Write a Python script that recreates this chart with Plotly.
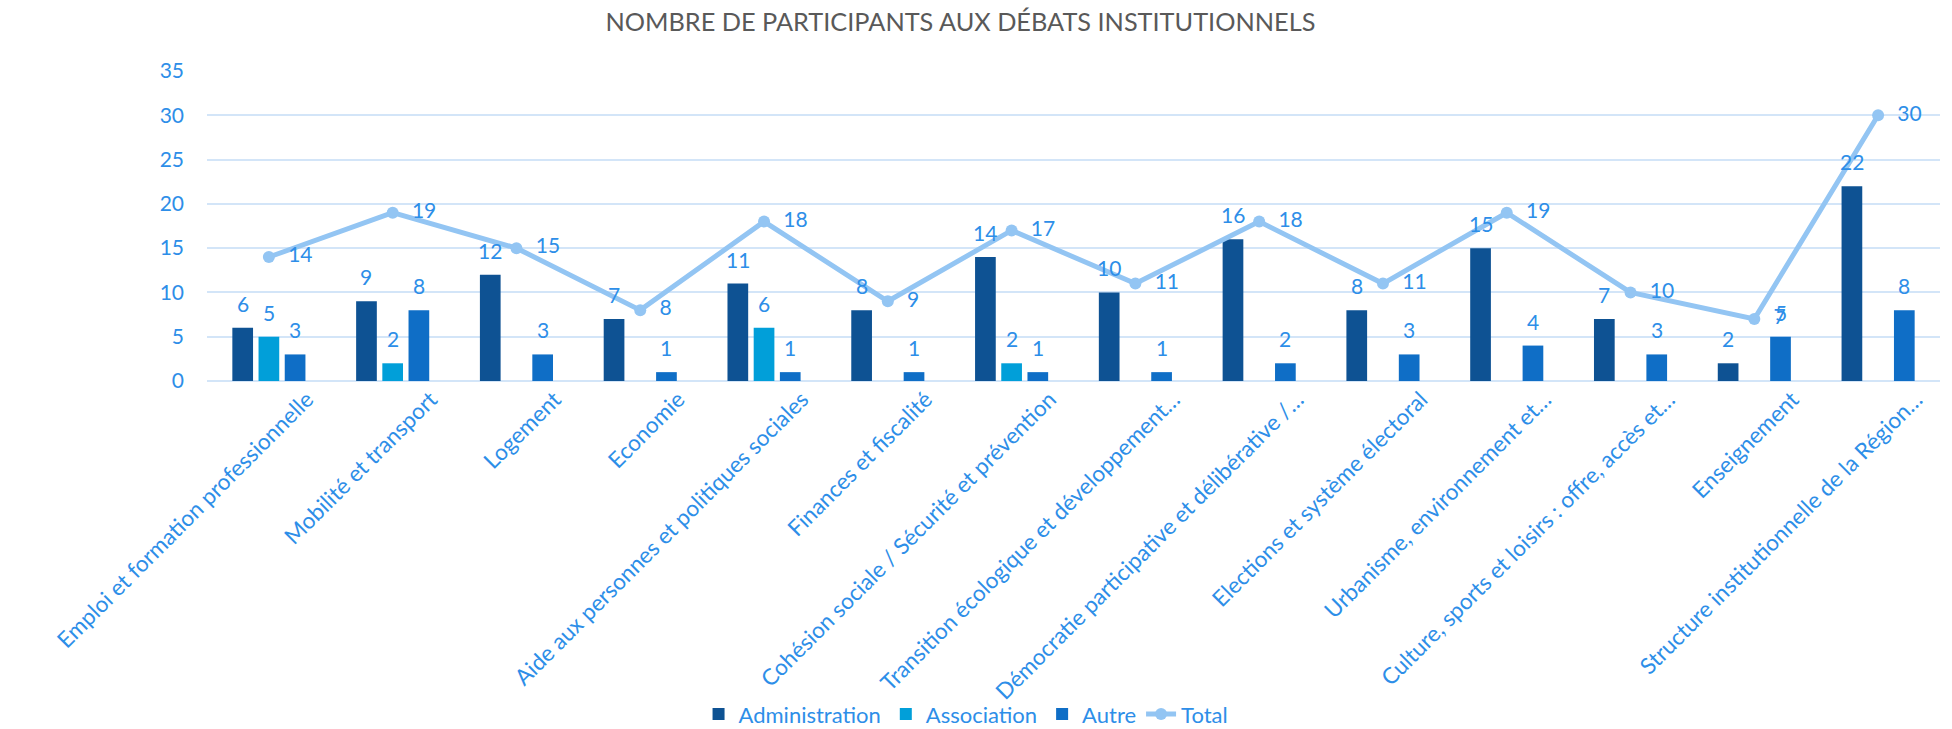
import plotly.graph_objects as go

categories = [
    "Emploi et formation professionnelle",
    "Mobilité et transport",
    "Logement",
    "Economie",
    "Aide aux personnes et politiques sociales",
    "Finances et fiscalité",
    "Cohésion sociale / Sécurité et prévention",
    "Transition écologique et développement…",
    "Démocratie participative et délibérative /…",
    "Elections et système électoral",
    "Urbanisme, environnement et…",
    "Culture, sports et loisirs : offre, accès et…",
    "Enseignement",
    "Structure institutionnelle de la Région…",
]
administration = [6, 9, 12, 7, 11, 8, 14, 10, 16, 8, 15, 7, 2, 22]
association = [5, 2, None, None, 6, None, 2, None, None, None, None, None, None, None]
autre = [3, 8, 3, 1, 1, 1, 1, 1, 2, 3, 4, 3, 5, 8]
total = [14, 19, 15, 8, 18, 9, 17, 11, 18, 11, 19, 10, 7, 30]
y_ticks = [0, 5, 10, 15, 20, 25, 30, 35]

FONT = "Lato"
TXT = "#2D8EE8"
NB = "\u00a0"

W, H = 1952, 729
ML, MR, MT, MB = 207, 12, 71, 348
BARGAP, GROUPGAP = 0.365, 0.21

series = [
    ("Administration", administration, "#0E5293"),
    ("Association", association, "#019FD9"),
    ("Autre", autre, "#0F6EC6"),
]

fig = go.Figure()
for name, vals, col in series:
    fig.add_trace(go.Bar(
        x=categories, y=vals, name=name,
        marker=dict(color=col, line=dict(width=0)),
        cliponaxis=False,
    ))

fig.add_trace(go.Scatter(
    x=categories, y=total, name="Total",
    mode="lines+markers+text",
    line=dict(color="#93C5F3", width=5),
    marker=dict(color="#93C5F3", size=12),
    text=[NB + NB + str(v) for v in total],
    textposition="middle right",
    textfont=dict(family=FONT, size=21, color=TXT),
    cliponaxis=False,
))

# data labels above the grouped bars (offset by the bar slot width)
cat_px = (W - ML - MR) / len(categories)
slot_px = cat_px * (1 - BARGAP) / len(series)
annotations = []
for k, (name, vals, col) in enumerate(series):
    for cat, v in zip(categories, vals):
        if v is None:
            continue
        annotations.append(dict(
            x=cat, y=v, xref="x", yref="y", text=str(v), showarrow=False,
            xanchor="center", yanchor="bottom",
            xshift=(k - 1) * slot_px, yshift=10,
            font=dict(family=FONT, size=21, color=TXT),
        ))

fig.update_layout(
    width=W, height=H,
    paper_bgcolor="white", plot_bgcolor="white",
    margin=dict(l=ML, r=MR, t=MT, b=MB, autoexpand=False),
    barmode="group", bargap=BARGAP, bargroupgap=GROUPGAP,
    title=dict(
        text="NOMBRE DE PARTICIPANTS AUX DÉBATS INSTITUTIONNELS",
        x=0.492, xanchor="center", y=0.97, yanchor="middle",
        font=dict(family=FONT, size=25.3, color="#595959"),
    ),
    font=dict(family=FONT, color=TXT),
    legend=dict(
        orientation="h", x=0.438, xanchor="center", y=-1.075, yanchor="middle",
        font=dict(family=FONT, size=22, color=TXT),
        traceorder="normal", bgcolor="rgba(0,0,0,0)",
    ),
    annotations=annotations,
    xaxis=dict(
        range=[-0.5, 13.5], automargin=False,
        tickangle=-45, tickfont=dict(family=FONT, size=22.5, color=TXT),
        ticklabelshift=38,
        showgrid=False, showline=False, ticks="",
    ),
    yaxis=dict(
        range=[0, 35], tickvals=y_ticks, ticktext=[str(v) for v in y_ticks],
        tickfont=dict(family=FONT, size=21, color=TXT),
        showgrid=True, gridcolor="#D3E5F8", gridwidth=2,
        zeroline=True, zerolinecolor="#D3E5F8", zerolinewidth=2,
        showline=False, ticks="", ticklabelstandoff=22, automargin=False,
    ),
)

fig.write_html(
    "out.html",
    config={"displayModeBar": False},
    post_script="document.body.style.margin='0';",
)
